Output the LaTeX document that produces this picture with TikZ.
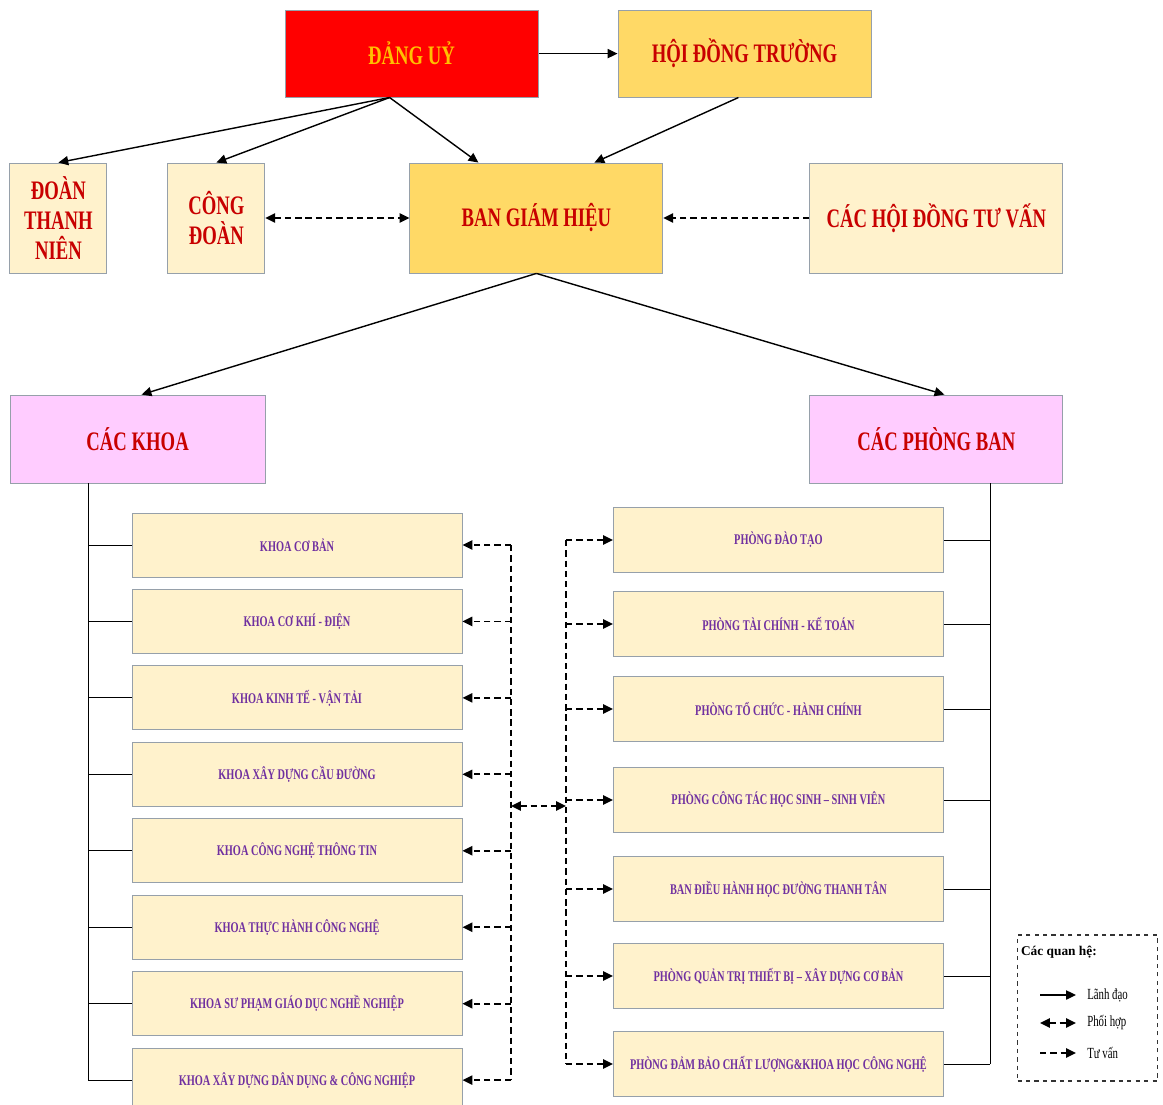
\documentclass[tikz,border=0pt]{standalone}
\usepackage{fontspec}
\setmainfont{Liberation Serif}[FakeStretch=0.7]
\newfontfamily\legendfont{Liberation Serif}
\usetikzlibrary{arrows.meta, positioning}

\definecolor{dangred}{RGB}{255,0,0}
\definecolor{dangtext}{RGB}{255,192,0}
\definecolor{gold}{RGB}{255,217,102}
\definecolor{cream}{RGB}{255,242,204}
\definecolor{pinkbox}{RGB}{255,204,255}
\definecolor{txtred}{RGB}{200,0,0}
\definecolor{txtpurple}{RGB}{112,48,160}
\definecolor{boxgray}{RGB}{150,160,170}

\begin{document}
\begin{tikzpicture}[
    node distance=0.29cm,
    every node/.style={draw=boxgray, line width=0.6pt, inner sep=2pt, align=center},
    topbox/.style={font=\fontsize{19}{21.5}\selectfont\bfseries, text=txtred},
    unitbox/.style={fill=cream, minimum width=8.25cm, minimum height=1.6cm, font=\fontsize{10.5}{12}\selectfont\bfseries, text=txtpurple},
    lead/.style={-{Triangle[length=7pt,width=6.5pt]}, line width=1pt},
    coop/.style={{Triangle[length=7pt,width=6.5pt]}-{Triangle[length=7pt,width=6.5pt]}, line width=1.3pt, dash pattern=on 4.5pt off 2.8pt},
    advise/.style={-{Triangle[length=7pt,width=6.5pt]}, line width=1.3pt, dash pattern=on 4.5pt off 2.8pt},
    dashline/.style={line width=1.3pt, dash pattern=on 4.5pt off 2.8pt},
    tree/.style={line width=0.7pt}
]

% Page size and background
\useasboundingbox (0,0) rectangle (29.075,-27.6);
\fill[white] (0,0) rectangle (29.075,-27.6);

% Top row
\node[topbox, fill=dangred, text=dangtext, minimum width=6.325cm, minimum height=2.175cm] (dang) at (10.29,-1.34) {ĐẢNG UỶ};
\node[topbox, fill=gold, minimum width=6.325cm, minimum height=2.175cm, right=1.975cm of dang] (hdt) {HỘI ĐỒNG TRƯỜNG};

% Second row
\node[topbox, fill=cream, minimum width=2.425cm, minimum height=2.75cm] (dtn) at (1.46,-5.45) {ĐOÀN\\THANH\\NIÊN};
\node[topbox, fill=cream, minimum width=2.425cm, minimum height=2.75cm] (cd) at (5.41,-5.45) {CÔNG\\ĐOÀN};
\node[topbox, fill=gold, minimum width=6.325cm, minimum height=2.75cm] (bgh) at (13.41,-5.45) {BAN GIÁM HIỆU};
\node[topbox, fill=cream, minimum width=6.325cm, minimum height=2.75cm] (chdtv) at (23.41,-5.45) {CÁC HỘI ĐỒNG TƯ VẤN};

% Third row
\node[topbox, fill=pinkbox, minimum width=6.375cm, minimum height=2.2cm] (khoa) at (3.44,-10.975) {CÁC KHOA};
\node[topbox, fill=pinkbox, minimum width=6.325cm, minimum height=2.2cm] (phong) at (23.41,-10.975) {CÁC PHÒNG BAN};

% Faculties
\node[unitbox] (k1) at (7.425,-13.625) {KHOA CƠ BẢN};
\node[unitbox, below=of k1] (k2) {KHOA CƠ KHÍ - ĐIỆN};
\node[unitbox, below=of k2] (k3) {KHOA KINH TẾ - VẬN TẢI};
\node[unitbox, below=of k3] (k4) {KHOA XÂY DỰNG CẦU ĐƯỜNG};
\node[unitbox, below=of k4] (k5) {KHOA CÔNG NGHỆ THÔNG TIN};
\node[unitbox, below=of k5] (k6) {KHOA THỰC HÀNH CÔNG NGHỆ};
\node[unitbox, below=of k6] (k7) {KHOA SƯ PHẠM GIÁO DỤC NGHỀ NGHIỆP};
\node[unitbox, below=of k7] (k8) {KHOA XÂY DỰNG DÂN DỤNG \& CÔNG NGHIỆP};

% Offices
\node[unitbox, minimum height=1.625cm] (p1) at (19.46,-13.5) {PHÒNG ĐÀO TẠO};
\node[unitbox, minimum height=1.625cm] (p2) at (19.46,-15.6) {PHÒNG TÀI CHÍNH - KẾ TOÁN};
\node[unitbox, minimum height=1.625cm] (p3) at (19.46,-17.725) {PHÒNG TỔ CHỨC - HÀNH CHÍNH};
\node[unitbox, minimum height=1.625cm] (p4) at (19.46,-20.0) {PHÒNG CÔNG TÁC HỌC SINH – SINH VIÊN};
\node[unitbox, minimum height=1.625cm] (p5) at (19.46,-22.225) {BAN ĐIỀU HÀNH HỌC ĐƯỜNG THANH TÂN};
\node[unitbox, minimum height=1.625cm] (p6) at (19.46,-24.4) {PHÒNG QUẢN TRỊ THIẾT BỊ – XÂY DỰNG CƠ BẢN};
\node[unitbox, minimum height=1.625cm] (p7) at (19.46,-26.6) {PHÒNG ĐẢM BẢO CHẤT LƯỢNG\&KHOA HỌC CÔNG NGHỆ};

% Top arrows
\coordinate (dangout) at ([xshift=-0.55cm]dang.south);
\draw[lead] (dang) -- (hdt);
\draw[lead] (dangout) -- (dtn.north);
\draw[lead] (dangout) -- (cd.north);
\draw[lead] (dangout) -- ([xshift=-1.45cm]bgh.north);
\draw[lead] ([xshift=-0.15cm]hdt.south) -- ([xshift=1.45cm]bgh.north);
\draw[coop] (cd) -- (bgh);
\draw[advise] (chdtv) -- (bgh);
\draw[lead] (bgh.south) -- ([xshift=0.1cm]khoa.north);
\draw[lead] (bgh.south) -- ([xshift=0.2cm]phong.north);

% Spines
\coordinate (lspine) at (2.2,0);
\coordinate (rspine) at (24.75,0);
\coordinate (ldash) at (12.775,0);
\coordinate (rdash) at (14.15,0);
\coordinate (mid) at (0,-20.15);

% Solid trees
\draw[tree] (khoa.south -| lspine) -- (k8.west -| lspine);
\foreach \i in {1,...,8}
    \draw[tree] (k\i.west -| lspine) -- (k\i.west);
\draw[tree] (phong.south -| rspine) -- (p7.east -| rspine);
\foreach \i in {1,...,7}
    \draw[tree] (p\i.east -| rspine) -- (p\i.east);

% Dashed trees
\draw[dashline] (k1.east -| ldash) -- (k8.east -| ldash);
\foreach \i in {1,...,8}
    \draw[advise] (k\i.east -| ldash) -- (k\i.east);
\draw[dashline] (p1.west -| rdash) -- (p7.west -| rdash);
\foreach \i in {1,...,7}
    \draw[advise] (p\i.west -| rdash) -- (p\i.west);
\draw[coop] (mid -| ldash) -- (mid -| rdash);

% Legend
\node[draw=black!80, dashed, line width=0.8pt, minimum width=3.5cm, minimum height=3.65cm] (legend) at (27.19,-25.2) {};
\node[draw=none, anchor=north west, font=\legendfont\bfseries\fontsize{9.5}{10}\selectfont] (lgtitle) at ([xshift=0.02cm,yshift=-0.2cm]legend.north west) {Các quan hệ:};
\node[draw=none, anchor=west, font=\fontsize{11}{12}\selectfont] (lg1) at (27.1,-24.875) {Lãnh đạo};
\node[draw=none, anchor=west, font=\fontsize{11}{12}\selectfont] (lg2) at (27.1,-25.575) {Phối hợp};
\node[draw=none, anchor=west, font=\fontsize{11}{12}\selectfont] (lg3) at (27.1,-26.325) {Tư vấn};
\draw[lead] ([xshift=-1.1cm]lg1.west) -- ([xshift=-0.2cm]lg1.west);
\draw[coop] ([xshift=-1.1cm]lg2.west) -- ([xshift=-0.2cm]lg2.west);
\draw[advise] ([xshift=-1.1cm]lg3.west) -- ([xshift=-0.2cm]lg3.west);

\end{tikzpicture}
\end{document}
